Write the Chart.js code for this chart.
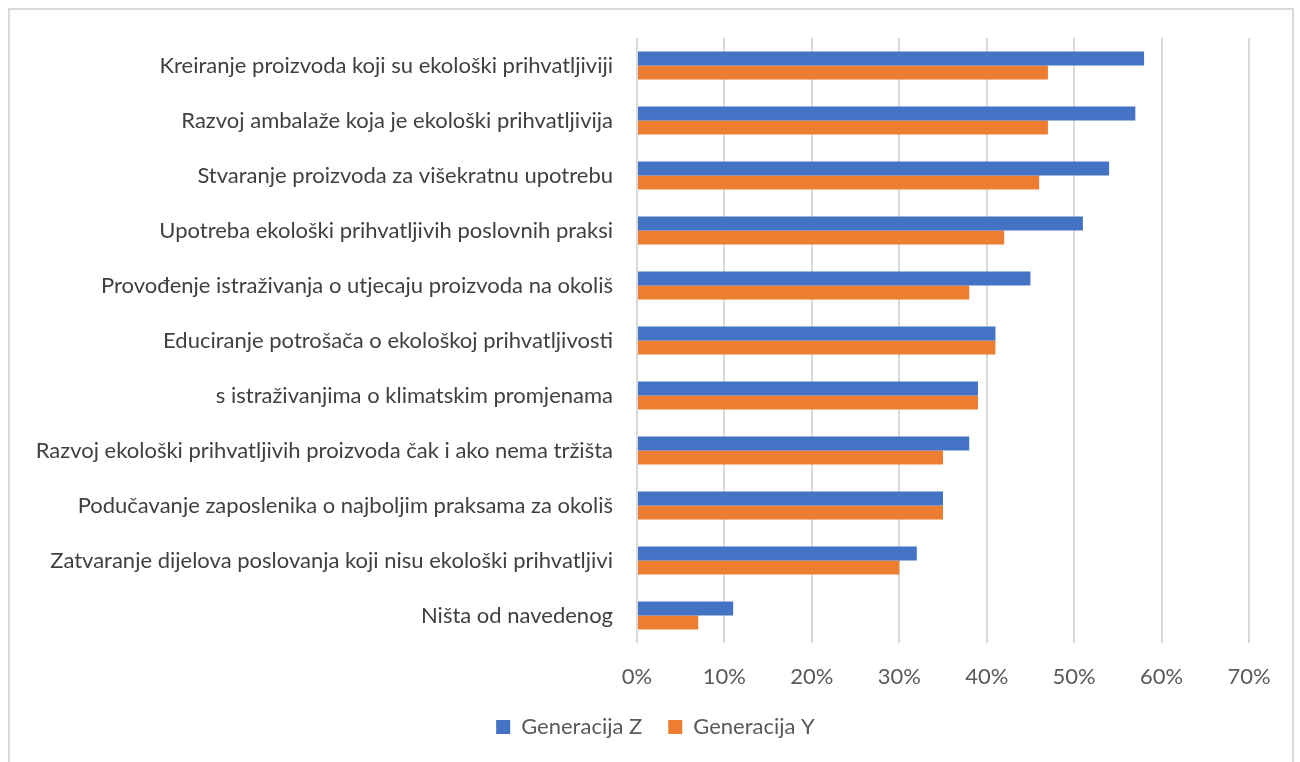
<!DOCTYPE html>
<html>
<head>
<meta charset="utf-8">
<script src="https://cdn.jsdelivr.net/npm/chart.js@4"></script>
<style>
  html, body { margin: 0; padding: 0; background: #fff; overflow: hidden; }
  .frame {
    position: absolute; left: 8px; top: 8px; width: 1286px; height: 770px;
    border: 2px solid #d9d9d9; box-sizing: border-box;
  }
  .wrap { position: absolute; left: 0; top: 0; width: 1300px; height: 762px; }
</style>
</head>
<body>
<div class="frame"></div>
<div class="wrap"><canvas id="chart" width="1300" height="762"></canvas></div>
<script>
// categories, top to bottom
const categories = [
  "Kreiranje proizvoda koji su ekološki prihvatljiviji",
  "Razvoj ambalaže koja je ekološki prihvatljivija",
  "Stvaranje proizvoda za višekratnu upotrebu",
  "Upotreba ekološki prihvatljivih poslovnih praksi",
  "Provođenje istraživanja o utjecaju proizvoda na okoliš",
  "Educiranje potrošača o ekološkoj prihvatljivosti",
  "s istraživanjima o klimatskim promjenama",
  "Razvoj ekološki prihvatljivih proizvoda čak i ako nema tržišta",
  "Podučavanje zaposlenika o najboljim praksama za okoliš",
  "Zatvaranje dijelova poslovanja koji nisu ekološki prihvatljivi",
  "Ništa od navedenog"
];

// shares in percent
const genZ = [58, 57, 54, 51, 45, 41, 39, 38, 35, 32, 11];
const genY = [47, 47, 46, 42, 38, 41, 39, 35, 35, 30, 7];

const seriesNames = ["Generacija Z", "Generacija Y"];
const xTicks = [0, 10, 20, 30, 40, 50, 60, 70];

const FONT = "Lato, 'Open Sans', sans-serif";

// nudge the legend a bit right so it sits under the middle of the page like the original
const legendShift = {
  id: "legendShift",
  afterLayout(chart) {
    const lg = chart.legend;
    if (!lg) return;
    lg.left += 31;
    lg.right += 31;
  }
};

new Chart(document.getElementById("chart"), {
  type: "bar",
  data: {
    labels: categories,
    datasets: [
      { label: seriesNames[0], data: genZ, backgroundColor: "#4472C4" },
      { label: seriesNames[1], data: genY, backgroundColor: "#ED7D31" }
    ]
  },
  options: {
    indexAxis: "y",
    responsive: false,
    animation: false,
    categoryPercentage: 0.51,
    barPercentage: 1.0,
    layout: { padding: { left: 0, right: 51, top: 38, bottom: 14 } },
    scales: {
      x: {
        min: 0,
        max: 70,
        afterBuildTicks: (axis) => { axis.ticks = xTicks.map(v => ({ value: v })); },
        afterFit: (axis) => { axis.height = 47; },
        grid: { color: "#d9d9d9", lineWidth: 2, drawTicks: false },
        border: { display: false },
        ticks: {
          padding: 21,
          color: "#595959",
          font: { family: FONT, size: 22 },
          callback: (v) => v + "%"
        }
      },
      y: {
        afterFit: (axis) => { axis.width = 637; },
        grid: { display: false, drawTicks: false },
        border: { display: false },
        ticks: {
          padding: 24,
          color: "#404040",
          font: { family: FONT, size: 22 }
        }
      }
    },
    plugins: {
      legend: {
        position: "bottom",
        labels: {
          boxWidth: 14,
          boxHeight: 14,
          padding: 26,
          color: "#595959",
          font: { family: FONT, size: 22 }
        }
      },
      tooltip: { enabled: false }
    }
  },
  plugins: [legendShift]
});
</script>
</body>
</html>
